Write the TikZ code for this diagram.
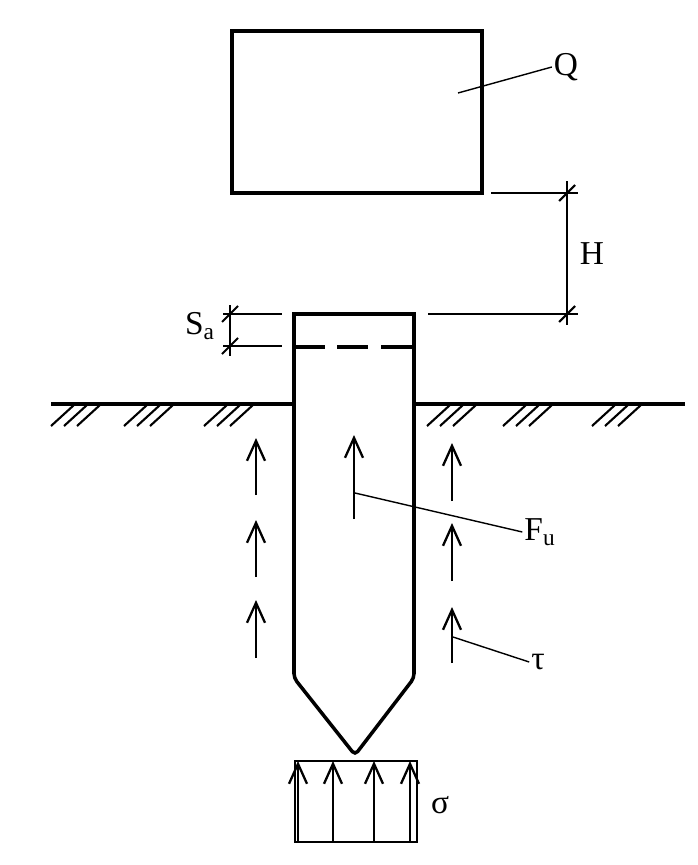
\documentclass[tikz,border=0pt]{standalone}
\usepackage{fontspec}
\setmainfont{Liberation Serif}
\usetikzlibrary{arrows.meta}
\begin{document}
\begin{tikzpicture}[x=0.02cm,y=-0.02cm,
    heavy/.style={line width=2pt},
    thin leader/.style={line width=0.8pt},
    dimline/.style={line width=1.2pt},
    up/.style={line width=1.3pt,-{Straight Barb[length=4mm,width=3.6mm]}},
    every node/.style={font=\fontsize{19}{22}\selectfont,inner sep=1pt}]
\useasboundingbox (0,0) rectangle (697,865);
  \draw[heavy] (232,31) rectangle (482,193);
  \draw[heavy] (354,314) -- (414,314) {[rounded corners=2.5pt] -- (414,678) -- (355,755) -- (294,678)} -- (294,314) -- cycle;
  \foreach \a/\b in {294/325,337/368,381/414}
    \draw[heavy] (\a,347) -- (\b,347);
  \draw[heavy] (51,404) -- (294,404);
  \draw[heavy] (414,404) -- (685,404);
  \foreach \g in {51,124,204,427,503,592}
    \foreach \i in {0,1,2}
      \draw[dimline] (\g+13*\i,426) -- (\g+13*\i+23,405);
  \draw (566,67) node (q) {Q};
  \draw (592,254) node (h) {H};
  \draw (200,326) node (sa) {S\textsubscript{a}};
  \draw (540,532) node (fu) {F\textsubscript{u}};
  \draw (538,662) node (tau) {τ};
  \draw (440,805) node (sigma) {σ};
  \coordinate (qfoot) at (458,93);
  \coordinate (fufoot) at (355,493);
  \coordinate (taufoot) at (453,637);
  \path[thin leader] (qfoot) edge (q.west);
  \path[thin leader] (fufoot) edge (fu.west);
  \path[thin leader] (taufoot) edge (tau.west);
  \draw[dimline] (491,193) -- (578,193);
  \draw[dimline] (428,314) -- (578,314);
  \draw[dimline] (567,181) -- (567,325);
  \draw[dimline] (223,314) -- (282,314);
  \draw[dimline] (223,346) -- (282,346);
  \draw[dimline] (230,305) -- (230,356);
  \foreach \x/\y in {567/193,567/314,230/314,230/346}
    \draw[dimline] (\x-8,\y+8) -- (\x+8,\y-8);
  \foreach \x/\a/\b in {256/495/438,256/577/520,256/658/600,354/519/435,452/501/443,452/581/523,452/663/607}
    \draw[up] (\x,\a) -- (\x,\b);
  \draw[line width=1.5pt] (295,761) rectangle (417,842);
  \foreach \x in {298,333,374,410}
    \draw[up] (\x,842) -- (\x,761);
\end{tikzpicture}
\end{document}
